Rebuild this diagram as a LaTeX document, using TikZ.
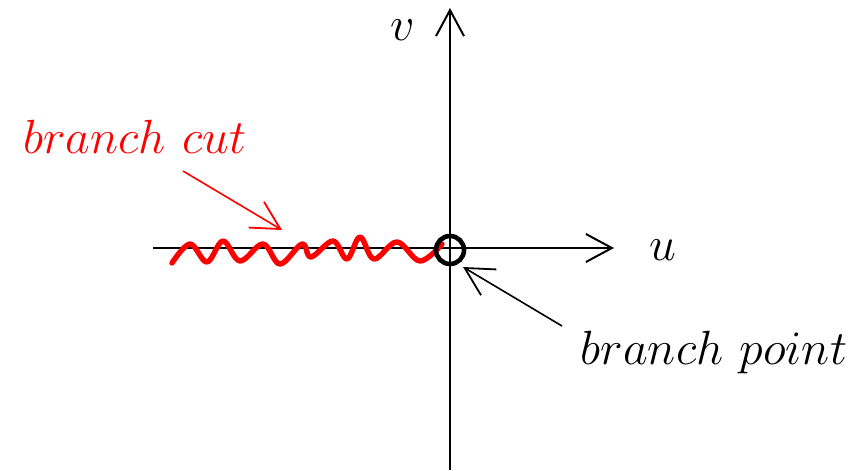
\documentclass[tikz,border=0pt]{standalone}
\usetikzlibrary{arrows.meta}
\begin{document}
\begin{tikzpicture}[x=0.25pt,y=-0.25pt,
  axis/.style={line width=0.5pt,-{Straight Barb[length=6.5pt,width=7pt,line width=0.5pt]}},
  pointer/.style={line width=0.4pt,-{Straight Barb[length=7pt,width=7.5pt,line width=0.45pt]}},
  lbl/.style={inner sep=0pt,font=\fontsize{12.7}{15}\selectfont},
  cutline/.style={red,line width=1.35pt,line cap=round,line join=round}]
\useasboundingbox (0,0) rectangle (863,470);
\coordinate (vb) at (450,470);
\coordinate (vt) at (450,8);
\coordinate (ul) at (153,248);
\coordinate (ur) at (614,248);
\draw[axis] (vb) -- (vt);
\draw[axis] (ul) -- (ur);
\node[lbl] (v) at (403,30) {$v$};
\node[lbl] (u) at (663,250) {$u$};
\draw[cutline] plot[smooth,tension=0.6] coordinates {
 (172,263) (190,244) (207,262) (223,241) (240,261) (263,244) (280,264)
 (302,244) (311,257) (333,241) (347,259) (360,237) (374,259) (397,242)
 (420,261) (442,244)};
\node[draw,circle,line width=1.15pt,minimum size=28pt*0.25,inner sep=0pt] (bp) at (450,250) {};
\node[lbl,red] (bc) at (135,137) {$branch\ cut$};
\node[lbl] (bpt) at (714,352) {$branch\ point$};
\coordinate (bcs) at (183,171);
\coordinate (bce) at (282,230);
\coordinate (bps) at (562,326);
\coordinate (bpe) at (463,267);
\draw[pointer,red] (bcs) -- (bce);
\draw[pointer] (bps) -- (bpe);
\end{tikzpicture}
\end{document}
